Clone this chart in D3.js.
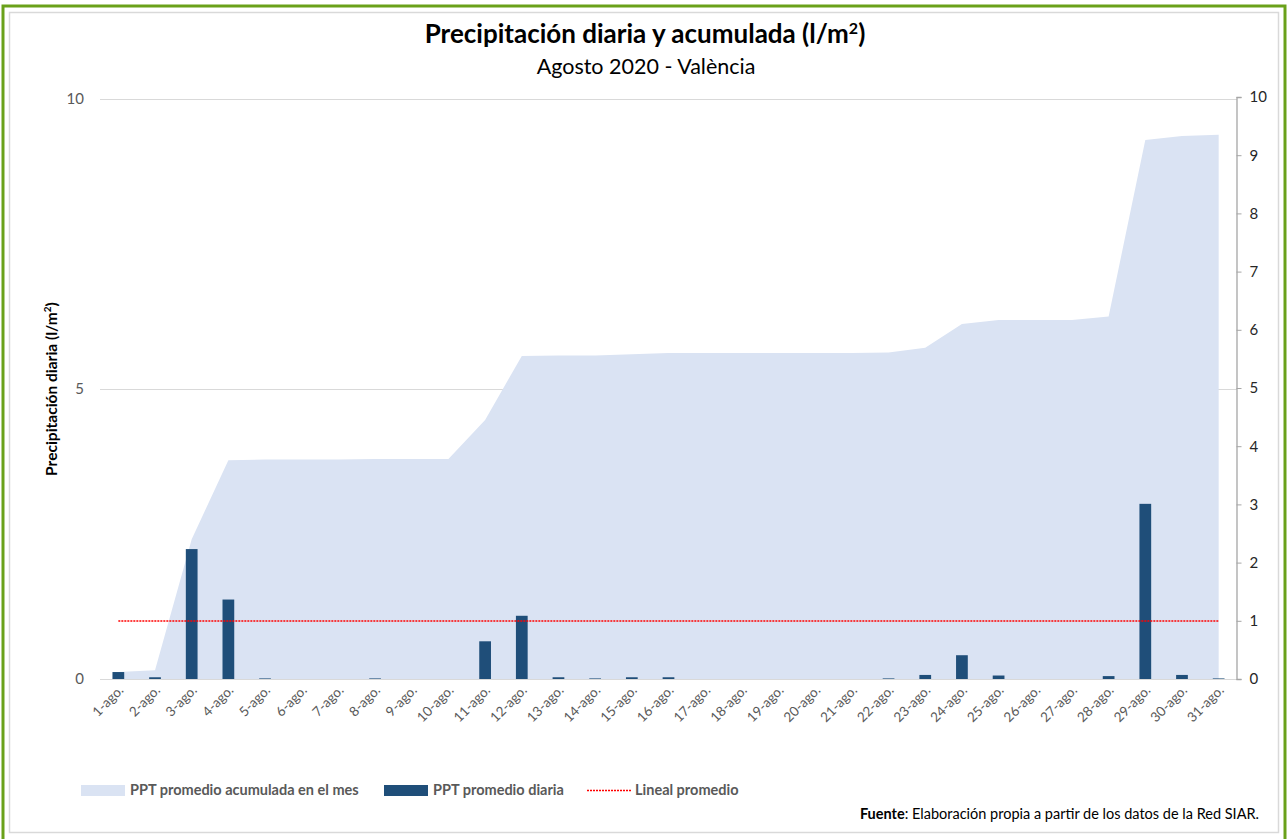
<!DOCTYPE html>
<html>
<head>
<meta charset="utf-8">
<script src="https://cdn.jsdelivr.net/npm/d3@7"></script>
<style>
  html, body { margin: 0; padding: 0; background: #fff; }
  svg { display: block; font-family: Lato, "Open Sans", sans-serif; }
</style>
</head>
<body>
<div id="chart"></div>
<script>
// Data (l/m2)
const days = d3.range(1, 32).map(d => `${d}-ago.`);
const daily = [0.12, 0.03, 2.24, 1.37, 0.01, 0, 0, 0.01, 0, 0,
               0.65, 1.09, 0.03, 0.01, 0.03, 0.03, 0, 0, 0, 0,
               0, 0.01, 0.07, 0.41, 0.06, 0, 0, 0.05, 3.02, 0.07, 0.01];
const accumulated = [0.12, 0.15, 2.40, 3.76, 3.77, 3.77, 3.77, 3.78, 3.78, 3.78,
                     4.45, 5.55, 5.56, 5.56, 5.58, 5.60, 5.60, 5.60, 5.60, 5.60,
                     5.60, 5.61, 5.69, 6.10, 6.17, 6.17, 6.17, 6.23, 9.26, 9.33, 9.35];
const meanValue = 1.0;
const leftTicks = [0, 5, 10];
const rightTicks = d3.range(0, 11);

const W = 1288, H = 839;
const m = { top: 99, left: 100, right: 1237, bottom: 679 };

const COLORS = {
  area: '#dae3f3',
  bar: '#1f4e79',
  mean: '#ff0000',
  grid: '#d9d9d9',
  axisText: '#595959',
  border: '#6aa11a'
};

const svg = d3.select('#chart').append('svg').attr('width', W).attr('height', H);

// frame
svg.append('rect').attr('x', 3).attr('y', 6).attr('width', W - 6).attr('height', H - 4)
  .attr('fill', 'none').attr('stroke', COLORS.border).attr('stroke-width', 3);
svg.append('rect').attr('x', 9.5).attr('y', 12.5).attr('width', W - 19).attr('height', H - 19)
  .attr('fill', 'none').attr('stroke', '#d9d9d9').attr('stroke-width', 1.5);

// titles
svg.append('text').attr('x', 645).attr('y', 43).attr('text-anchor', 'middle')
  .attr('font-size', 26).attr('font-weight', 'bold').attr('fill', '#000')
  .html('Precipitación diaria y acumulada (l/m<tspan font-size="16" dy="-9">2</tspan><tspan dy="9">)</tspan>');
svg.append('text').attr('x', 646).attr('y', 74).attr('text-anchor', 'middle')
  .attr('font-size', 21.5).attr('fill', '#000').text('Agosto 2020 - València');

// scales
const x = d3.scaleBand().domain(days).range([m.left, m.right]);
const yL = d3.scaleLinear().domain([0, 10]).range([m.bottom, m.top]);
const yR = d3.scaleLinear().domain([0, 10]).range([m.bottom, m.top - 2]);
const cx = d => x(d) + x.bandwidth() / 2;

// gridlines (left axis)
svg.append('g').selectAll('line').data(leftTicks).join('line')
  .attr('x1', m.left).attr('x2', m.right)
  .attr('y1', d => yL(d) + 0.5).attr('y2', d => yL(d) + 0.5)
  .attr('stroke', COLORS.grid).attr('stroke-width', 1.2);

// accumulated area (right axis)
const area = d3.area()
  .x((d, i) => cx(days[i]))
  .y0(yR(0)).y1(d => yR(d));
svg.append('path').datum(accumulated).attr('d', area).attr('fill', COLORS.area);

// daily bars (left axis)
const bw = x.bandwidth() * 0.32;
svg.append('g').selectAll('rect').data(daily).join('rect')
  .attr('x', (d, i) => cx(days[i]) - bw / 2)
  .attr('y', d => yL(d))
  .attr('width', bw)
  .attr('height', d => yL(0) - yL(d))
  .attr('fill', COLORS.bar);

// mean line
svg.append('line')
  .attr('x1', cx(days[0])).attr('x2', cx(days[days.length - 1]))
  .attr('y1', yL(meanValue)).attr('y2', yL(meanValue))
  .attr('stroke', COLORS.mean).attr('stroke-width', 1.5).attr('stroke-dasharray', '2,1');

// left axis labels
svg.append('g').selectAll('text').data(leftTicks).join('text')
  .attr('x', 84).attr('y', d => yL(d) + 5).attr('text-anchor', 'end')
  .attr('font-size', 15).attr('fill', COLORS.axisText).text(d => d);

// right axis
const rAxis = svg.append('g').attr('transform', `translate(${m.right - 0.5},0)`)
  .call(d3.axisRight(yR).tickValues(rightTicks).tickSize(5).tickPadding(8));
rAxis.select('.domain').attr('stroke', '#a6a6a6').attr('stroke-width', 1.3);
rAxis.selectAll('.tick line').attr('stroke', '#a6a6a6');
rAxis.selectAll('.tick text').attr('font-size', 15).attr('fill', '#262626')
  .attr('font-family', 'Lato, sans-serif');

// x axis labels
svg.append('g').selectAll('text').data(days).join('text')
  .attr('transform', d => `translate(${cx(d) + 6},${m.bottom + 12}) rotate(-45)`)
  .attr('text-anchor', 'end').attr('font-size', 13.5).attr('fill', COLORS.axisText)
  .text(d => d);

// y axis title
svg.append('text').attr('transform', `translate(57,${yL(5)}) rotate(-90)`)
  .attr('text-anchor', 'middle').attr('font-size', 15.5).attr('font-weight', 'bold').attr('fill', '#000')
  .html('Precipitación diaria (l/m<tspan font-size="10" dy="-6">2</tspan><tspan dy="6">)</tspan>');

// legend
const legend = svg.append('g').attr('font-size', 14.5).attr('font-weight', 'bold').attr('fill', COLORS.axisText);
legend.append('rect').attr('x', 81).attr('y', 785).attr('width', 44).attr('height', 11).attr('fill', COLORS.area);
legend.append('text').attr('x', 130).attr('y', 795).text('PPT promedio acumulada en el mes');
legend.append('rect').attr('x', 384).attr('y', 785).attr('width', 44).attr('height', 11).attr('fill', COLORS.bar);
legend.append('text').attr('x', 433).attr('y', 795).text('PPT promedio diaria');
legend.append('line').attr('x1', 587).attr('x2', 631).attr('y1', 790.5).attr('y2', 790.5)
  .attr('stroke', COLORS.mean).attr('stroke-width', 1.5).attr('stroke-dasharray', '2,1');
legend.append('text').attr('x', 635).attr('y', 795).text('Lineal promedio');

// source note
svg.append('text').attr('x', 1259).attr('y', 819).attr('text-anchor', 'end')
  .attr('font-size', 14.5).attr('fill', '#000')
  .html('<tspan font-weight="bold">Fuente</tspan>: Elaboración propia a partir de los datos de la Red SIAR.');
</script>
</body>
</html>
